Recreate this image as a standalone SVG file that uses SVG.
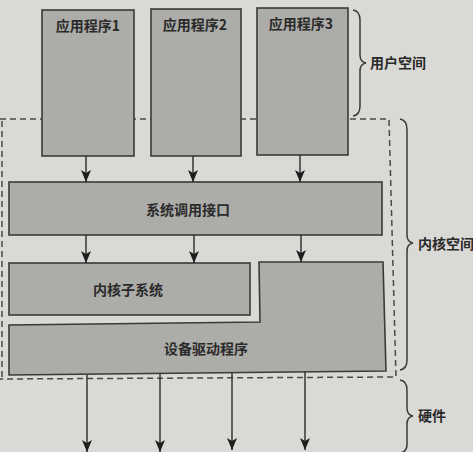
<svg xmlns="http://www.w3.org/2000/svg" width="473" height="452" viewBox="0 0 473 452">
<defs>
<marker id="ah" viewBox="0 0 12 10" refX="12" refY="5" markerWidth="12" markerHeight="10" markerUnits="userSpaceOnUse" orient="auto">
<path d="M0,0 L12,5 L0,10 L3,5 Z" fill="#1e1e1e"/>
</marker>
<style>
.box{fill:#acaca8;stroke:#3a3a3a;stroke-width:1.6}
.lbl{font-family:"Noto Sans CJK SC","Noto Sans",sans-serif;font-size:14px;font-weight:600;fill:#2a2a2a}
.c{text-anchor:middle}
.arr{stroke:#2a2a2a;stroke-width:1.4;fill:none;marker-end:url(#ah)}
.brace{stroke:#3a3a3a;stroke-width:1.5;fill:none}
.dash{stroke:#4a4a4a;stroke-width:1.5;fill:none;stroke-dasharray:6,4}
</style>
</defs>
<rect x="0" y="0" width="473" height="452" fill="#d9d9d6"/>

<g id="kernel-boundary">
<path class="dash" d="M0,119 L389,119 L396,377 L0,379"/>
<path class="dash" d="M2,121 L2,377"/>
</g>

<g id="app1"><rect class="box" x="42" y="10" width="92" height="146"/><text class="lbl c" x="88" y="31">应用程序1</text></g>
<g id="app2"><rect class="box" x="151" y="9" width="90" height="147"/><text class="lbl c" x="195" y="30">应用程序2</text></g>
<g id="app3"><rect class="box" x="257" y="8" width="91" height="147"/><text class="lbl c" x="301" y="29">应用程序3</text></g>

<g id="syscall"><rect class="box" x="9" y="182" width="373" height="53"/><text class="lbl c" x="188" y="215">系统调用接口</text></g>

<g id="kernel-subsystem"><rect class="box" x="9" y="263" width="241" height="52"/><text class="lbl c" x="128" y="295">内核子系统</text></g>

<g id="device-driver"><path class="box" d="M259,262 L383,262 L386,371 L9,375 L9,325 L260,322 Z"/><text class="lbl c" x="206" y="354">设备驱动程序</text></g>

<g id="connectors">
<line class="arr" x1="86" y1="156" x2="86" y2="182"/>
<line class="arr" x1="193" y1="156" x2="193" y2="182"/>
<line class="arr" x1="300" y1="155" x2="300" y2="182"/>
<line class="arr" x1="86" y1="235" x2="86" y2="263"/>
<line class="arr" x1="194" y1="235" x2="194" y2="263"/>
<line class="arr" x1="301" y1="235" x2="301" y2="262"/>
<line class="arr" x1="87" y1="375" x2="87" y2="452"/>
<line class="arr" x1="160" y1="374" x2="160" y2="452"/>
<line class="arr" x1="232" y1="373" x2="232" y2="450"/>
<line class="arr" x1="305" y1="372" x2="305" y2="450"/>
</g>

<g id="user-space">
<path class="brace" d="M353,10 Q360,11 360,20 L360,55 Q360,62 366,63 Q360,64 360,71 L360,106 Q360,115 353,116"/>
<text class="lbl" x="370" y="68">用户空间</text>
</g>
<g id="kernel-space">
<path class="brace" d="M400,119 Q407,120 407,130 L407,235 Q407,242 413,243 Q407,244 407,251 L407,360 Q407,369 400,370"/>
<text class="lbl" x="418" y="249">内核空间</text>
</g>
<g id="hardware">
<path class="brace" d="M400,380 Q407,381 407,390 L407,408 Q407,415 413,416 Q407,417 407,424 L407,444 Q407,452 400,453"/>
<text class="lbl" x="418" y="421">硬件</text>
</g>
</svg>
